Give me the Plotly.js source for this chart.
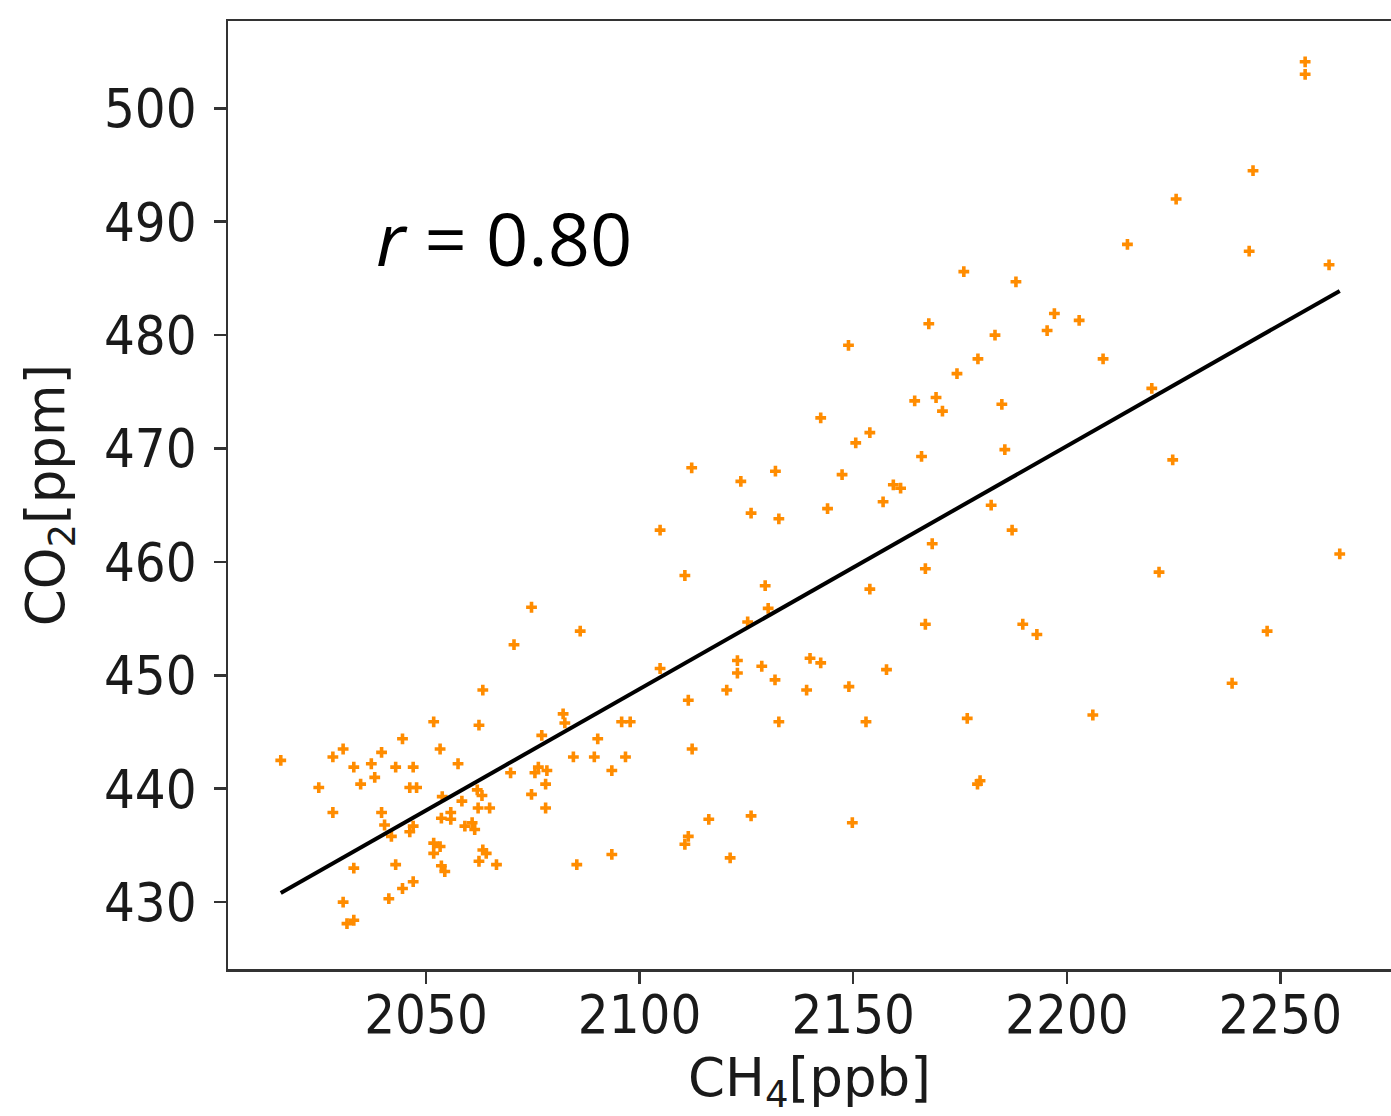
<!DOCTYPE html>
<html>
<head>
<meta charset="utf-8">
<script src="https://cdn.plot.ly/plotly-3.0.1.min.js"></script>
<style>html,body{margin:0;padding:0;background:#fff;}#chart{width:1391px;height:1116px;}</style>
</head>
<body>
<div id="chart"></div>
<script>
// CH4 [ppb] values of the samples
const ch4 = [
 2070.6,2063.3,2051.8,2062.4,2044.5,2030.6,2039.6,2053.3,2028.2,2016.0,
 2033.1,2037.2,2042.9,2047.0,2057.5,2038.0,2069.8,2024.9,2034.7,2046.2,
 2047.8,2053.8,2062.0,2063.1,2058.4,2028.2,2039.6,2062.2,2064.9,2053.6,
 2055.8,2055.8,2040.3,2041.9,2047.0,2046.2,2059.1,2060.8,2061.4,2051.8,
 2053.3,2051.8,2063.3,2064.1,2062.4,2066.5,2033.1,2042.9,2053.6,2054.4,
 2047.0,2044.5,2041.3,2030.6,2033.1,2031.5,
 2110.6,2129.4,2074.7,2086.1,2130.1,2125.3,2122.9,2122.9,2128.6,2104.8,
 2131.7,2120.4,2139.1,2111.4,2082.1,2082.5,2095.8,2097.8,2132.6,2077.1,
 2090.2,2112.3,2084.5,2089.4,2096.7,2076.3,2075.5,2078.3,2093.5,2078.0,
 2074.7,2078.0,2116.2,2126.1,2111.4,2110.6,2093.5,2121.2,2085.3,
 2166.9,2153.9,2166.9,2189.7,2193.0,2139.9,2142.4,2157.8,2149.0,2153.0,
 2176.7,2206.1,2179.7,2179.1,2149.8,
 2221.6,2246.9,2238.7,
 2175.9,2167.7,2183.2,2148.9,2179.2,2174.3,2164.4,2169.4,2170.9,2184.8,
 2142.4,2153.9,2150.6,2166.0,2185.5,2112.2,2123.7,2131.8,2147.4,2159.4,
 2161.1,2157.0,2182.3,2126.1,2132.6,2144.0,2104.8,2187.2,2168.5,
 2255.8,2255.8,2243.6,2225.6,2214.2,2242.7,2261.4,2188.1,2197.1,2202.9,
 2195.4,2208.5,2219.9,2224.8,2263.9
];
// CO2 [ppm] values of the same samples
const co2 = [
 452.7,448.7,445.9,445.6,444.4,443.5,443.2,443.5,442.8,442.5,
 441.9,442.2,441.9,441.9,442.2,441.0,441.4,440.1,440.4,440.1,
 440.1,439.3,439.9,439.4,438.9,437.9,437.9,438.3,438.3,437.4,
 437.9,437.3,436.8,435.8,436.7,436.2,436.7,437.0,436.4,435.2,
 434.9,434.3,434.6,434.3,433.6,433.3,433.0,433.3,433.2,432.7,
 431.8,431.2,430.3,430.0,428.4,428.1,
 458.8,457.9,456.0,453.9,455.9,454.7,451.3,450.2,450.8,450.6,
 449.6,448.7,448.7,447.8,446.6,445.8,445.9,445.9,445.9,444.7,
 444.4,443.5,442.8,442.8,442.8,441.9,441.4,441.6,441.6,440.4,
 439.5,438.3,437.3,437.6,435.8,435.1,434.2,433.9,433.3,
 459.4,457.6,454.5,454.5,453.6,451.5,451.1,450.5,449.0,445.9,
 446.2,446.5,440.7,440.4,437.0,
 459.1,453.9,449.3,
 485.6,481.0,480.0,479.1,477.9,476.6,474.2,474.5,473.3,473.9,
 472.7,471.4,470.5,469.3,469.9,468.3,467.1,468.0,467.7,466.8,
 466.5,465.3,465.0,464.3,463.8,464.7,462.8,462.8,461.6,
 504.1,503.0,494.5,492.0,488.0,487.4,486.2,484.7,481.9,481.3,
 480.4,477.9,475.3,469.0,460.7
];
// least-squares line endpoints as drawn in the figure
const fitX = [2016.0, 2263.9];
const fitY = [430.8, 483.9];
const rLabel = '<i>r</i> = 0.80';
const xTicks = [2050, 2100, 2150, 2200, 2250];
const yTicks = [430, 440, 450, 460, 470, 480, 490, 500];

const tickFont = {family: 'DejaVu Sans Condensed, DejaVu Sans, sans-serif', size: 54, color: '#1a1a1a'};
const titleFont = {family: 'DejaVu Sans, sans-serif', size: 53, color: '#1a1a1a'};

const data = [
  {x: ch4, y: co2, type: 'scatter', mode: 'markers',
   marker: {symbol: 'cross', size: 9, color: '#ff8c00', line: {width: 0}},
   hoverinfo: 'x+y', showlegend: false},
  {x: fitX, y: fitY, type: 'scatter', mode: 'lines',
   line: {color: '#000000', width: 4}, showlegend: false}
];

const layout = {
  width: 1391, height: 1116,
  margin: {l: 228, r: 0, t: 21, b: 147, pad: 0},
  paper_bgcolor: '#ffffff', plot_bgcolor: '#ffffff',
  showlegend: false,
  xaxis: {
    range: [2003.65, 2275.9], tickvals: xTicks, ticktext: xTicks.map(String),
    showgrid: false, zeroline: false,
    showline: true, linecolor: '#333333', linewidth: 2.5, mirror: true,
    ticks: 'outside', ticklen: 12, tickwidth: 2.5, tickcolor: '#333333',
    tickfont: tickFont, automargin: false, ticklabelstandoff: -15,
    title: {text: 'CH<sub>4</sub>[ppb]', font: titleFont, standoff: 27}
  },
  yaxis: {
    range: [424.10, 507.70], tickvals: yTicks, ticktext: yTicks.map(String),
    showgrid: false, zeroline: false,
    showline: true, linecolor: '#333333', linewidth: 2.5, mirror: false,
    ticks: 'outside', ticklen: 12, tickwidth: 2.5, tickcolor: '#333333',
    tickfont: tickFont, automargin: false, ticklabelstandoff: 6,
    title: {text: 'CO<sub>2</sub>[ppm]', font: titleFont, standoff: 23}
  },
  annotations: [{
    text: rLabel, xref: 'x', yref: 'y', x: 2037.9, y: 488.6,
    xanchor: 'left', yanchor: 'middle', showarrow: false,
    font: {family: 'Open Sans, sans-serif', size: 74, color: '#000000'}
  }]
};

Plotly.newPlot('chart', data, layout, {displayModeBar: false, staticPlot: true});
</script>
</body>
</html>
